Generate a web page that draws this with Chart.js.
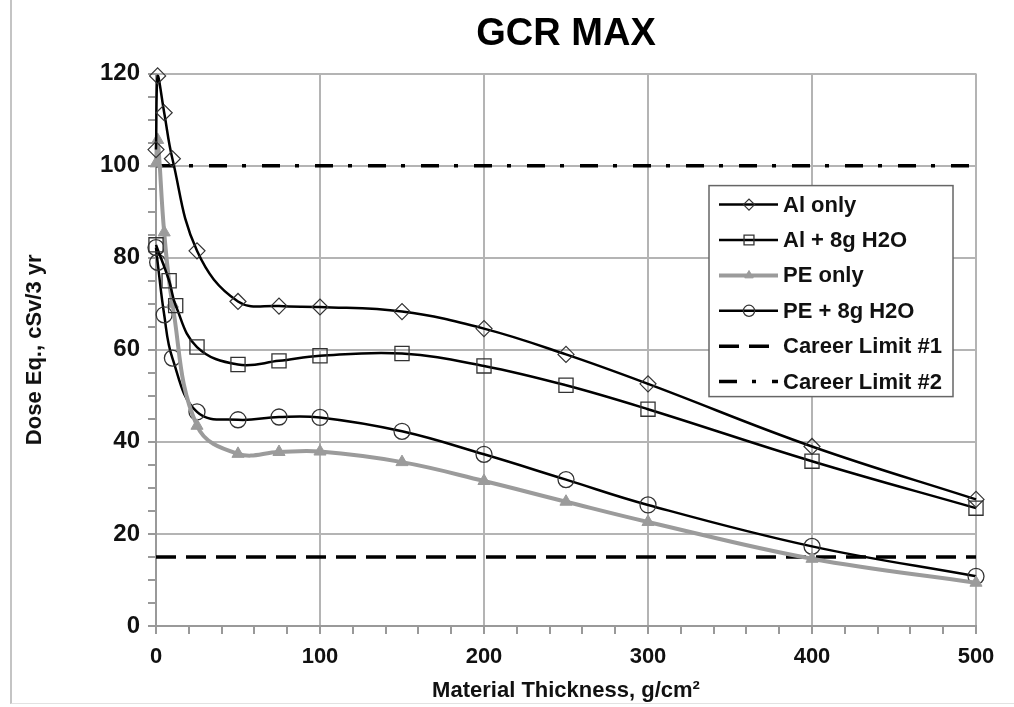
<!DOCTYPE html>
<html>
<head>
<meta charset="utf-8">
<script src="https://cdn.jsdelivr.net/npm/chart.js@4.4.1/dist/chart.umd.min.js"></script>
<style>
  html, body { margin: 0; padding: 0; background: #fff; }
  #wrap { position: relative; width: 1014px; height: 707px; }
  #frame { position: absolute; left: 10px; top: 0; width: 1004px; height: 703px;
           border-left: 2px solid #c4c4c4; border-bottom: 1px solid #e2e2e2; pointer-events: none; }
</style>
</head>
<body>
<div id="wrap">
  <canvas id="chart" width="1014" height="707"></canvas>
  <div id="frame"></div>
</div>
<script>
// thickness (g/cm2) and dose values
const xAlOnly = [0, 1, 5, 10, 25, 50, 75, 100, 150, 200, 250, 300, 400, 500];
const alOnly = [103.5, 119.5, 111.5, 101.5, 81.5, 70.5, 69.5, 69.3, 68.3, 64.6, 59, 52.6, 39, 27.5];

const xAlH2O = [0, 8, 12, 25, 50, 75, 100, 150, 200, 250, 300, 400, 500];
const alH2O = [82.8, 75, 69.6, 60.6, 56.8, 57.6, 58.7, 59.2, 56.5, 52.3, 47.1, 35.8, 25.6];

const xPeOnly = [0, 1, 5, 10, 25, 50, 75, 100, 150, 200, 250, 300, 400, 500];
const peOnly = [100.5, 105.6, 85.5, 70, 43.5, 37.4, 37.8, 37.9, 35.6, 31.5, 27, 22.6, 14.6, 9.4];

const xPeH2O = [0, 1, 5, 10, 25, 50, 75, 100, 150, 200, 250, 300, 400, 500];
const peH2O = [82.2, 79, 67.6, 58.2, 46.5, 44.8, 45.4, 45.3, 42.3, 37.3, 31.8, 26.3, 17.3, 10.8];

const xLimits = [0, 500];
const careerLimit1 = [15, 15];
const careerLimit2 = [100, 100];

const seriesLabels = ["Al only", "Al + 8g H2O", "PE only", "PE + 8g H2O", "Career Limit #1", "Career Limit #2"];

const toPoints = (xs, ys) => xs.map((x, i) => ({ x: x, y: ys[i] }));

const hole = "rgba(0,0,0,0)";
const gray = "#9b9b9b";
const arial = "'Liberation Sans', Arial, sans-serif";

// legend drawn inside the plot, like the original
const legendBox = {
    id: "legendBox",
    afterDatasetsDraw(chart) {
        const { ctx, chartArea } = chart;
        const left = chartArea.left + 553;
        const top = chartArea.top + 112;
        const w = 244, h = 211;
        ctx.save();
        ctx.fillStyle = "#fff";
        ctx.fillRect(left, top, w, h);
        ctx.strokeStyle = "#666";
        ctx.lineWidth = 1.5;
        ctx.strokeRect(left, top, w, h);
        chart.data.datasets.forEach((ds, i) => {
            const y = top + 19 + i * 35.4;
            ctx.setLineDash(ds.borderDash || []);
            ctx.strokeStyle = ds.borderColor;
            ctx.lineWidth = ds.borderWidth;
            ctx.beginPath();
            ctx.moveTo(left + 10, y);
            ctx.lineTo(left + 69, y);
            ctx.stroke();
            ctx.setLineDash([]);
            if (ds.pointRadius > 0) {
                ctx.fillStyle = ds.pointBackgroundColor;
                ctx.strokeStyle = ds.pointBorderColor;
                ctx.lineWidth = ds.pointBorderWidth;
                Chart.helpers.drawPoint(ctx, {
                    pointStyle: ds.pointStyle,
                    radius: ds.pointRadius * 0.7,
                    borderWidth: ds.pointBorderWidth,
                    rotation: 0
                }, left + 40, y);
            }
            ctx.fillStyle = "#111";
            ctx.font = "bold 22px " + arial;
            ctx.textBaseline = "middle";
            ctx.textAlign = "left";
            ctx.fillText(ds.label, left + 74, y + 1);
        });
        ctx.restore();
    }
};

const ctx = document.getElementById("chart").getContext("2d");

new Chart(ctx, {
    type: "line",
    data: {
        datasets: [
            {
                label: seriesLabels[0],
                data: toPoints(xAlOnly, alOnly),
                borderColor: "#000",
                borderWidth: 2.5,
                pointStyle: "rectRot",
                pointRadius: 8,
                pointBackgroundColor: hole,
                pointBorderColor: "#333",
                pointBorderWidth: 1.2,
                tension: 0.4,
                clip: 20
            },
            {
                label: seriesLabels[1],
                data: toPoints(xAlH2O, alH2O),
                borderColor: "#000",
                borderWidth: 2.5,
                pointStyle: "rect",
                pointRadius: 10,
                pointBackgroundColor: hole,
                pointBorderColor: "#333",
                pointBorderWidth: 1.3,
                tension: 0.4,
                clip: 20
            },
            {
                label: seriesLabels[2],
                data: toPoints(xPeOnly, peOnly),
                borderColor: gray,
                borderWidth: 4,
                pointStyle: "triangle",
                pointRadius: 7,
                pointBackgroundColor: gray,
                pointBorderColor: gray,
                pointBorderWidth: 1,
                tension: 0.4,
                clip: 20
            },
            {
                label: seriesLabels[3],
                data: toPoints(xPeH2O, peH2O),
                borderColor: "#000",
                borderWidth: 2.5,
                pointStyle: "circle",
                pointRadius: 8,
                pointBackgroundColor: hole,
                pointBorderColor: "#333",
                pointBorderWidth: 1.3,
                tension: 0.4,
                clip: 20
            },
            {
                label: seriesLabels[4],
                data: toPoints(xLimits, careerLimit1),
                borderColor: "#000",
                borderWidth: 3.5,
                borderDash: [20, 10],
                pointRadius: 0,
                tension: 0
            },
            {
                label: seriesLabels[5],
                data: toPoints(xLimits, careerLimit2),
                borderColor: "#000",
                borderWidth: 3.5,
                borderDash: [18, 15, 4, 16],
                pointRadius: 0,
                tension: 0
            }
        ]
    },
    options: {
        responsive: false,
        animation: false,
        layout: { padding: { left: 0, right: 38, top: 0, bottom: 0 } },
        plugins: {
            legend: { display: false },
            tooltip: { enabled: false },
            title: {
                display: true,
                text: "GCR MAX",
                fullSize: false,
                color: "#000",
                font: { family: arial, size: 38, weight: "bold" },
                padding: { top: 12, bottom: 16 }
            }
        },
        scales: {
            x: {
                type: "linear",
                min: 0,
                max: 500,
                afterFit: (scale) => { scale.height = 81; },
                ticks: {
                    stepSize: 20,
                    autoSkip: false,
                    maxRotation: 0,
                    padding: 10,
                    color: "#111",
                    font: { family: arial, size: 22, weight: "bold" },
                    callback: (v) => (v % 100 === 0 ? v : "")
                },
                grid: {
                    color: (c) => (c.tick && c.tick.value % 100 === 0 ? "#b4b4b4" : hole),
                    lineWidth: 2,
                    tickColor: "#999",
                    tickLength: 8
                },
                border: { color: "#999", width: 2 },
                title: {
                    display: true,
                    text: "Material Thickness, g/cm²",
                    color: "#111",
                    font: { family: arial, size: 22, weight: "bold" },
                    padding: { top: 0, bottom: 3 }
                }
            },
            y: {
                min: 0,
                max: 120,
                afterFit: (scale) => { scale.width = 156; },
                ticks: {
                    stepSize: 5,
                    autoSkip: false,
                    padding: 8,
                    color: "#111",
                    font: { family: arial, size: 24, weight: "bold" },
                    callback: (v) => (v % 20 === 0 ? v : "")
                },
                grid: {
                    color: (c) => (c.tick && c.tick.value % 20 === 0 ? "#b4b4b4" : hole),
                    lineWidth: 2,
                    tickColor: "#999",
                    tickLength: 8
                },
                border: { color: "#999", width: 2 },
                title: {
                    display: true,
                    text: "Dose Eq., cSv/3 yr",
                    color: "#111",
                    font: { family: arial, size: 22, weight: "bold" },
                    padding: { top: 22, bottom: 0 }
                }
            }
        }
    },
    plugins: [legendBox]
});
</script>
</body>
</html>
